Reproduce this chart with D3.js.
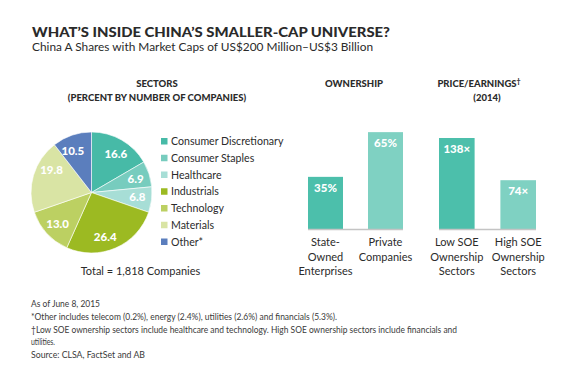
<!DOCTYPE html>
<html>
<head>
<meta charset="utf-8">
<script src="https://cdn.jsdelivr.net/npm/d3@7"></script>
<style>
  html, body { margin: 0; padding: 0; background: #fff; }
  svg { display: block; }
  text { font-family: Lato, "Open Sans", sans-serif; }
</style>
</head>
<body>
<svg id="chart" width="580" height="383"></svg>
<script>
// ---- data ----
const sectors = ["Consumer Discretionary", "Consumer Staples", "Healthcare", "Industrials", "Technology", "Materials", "Other*"];
const sectorValues = [16.6, 6.9, 6.8, 26.4, 13.0, 19.8, 10.5];
const sectorLabels = ["16.6", "6.9", "6.8", "26.4", "13.0", "19.8", "10.5"];

const ownershipCats = ["State-Owned Enterprises", "Private Companies"];
const ownershipValues = [35, 65];
const ownershipLabels = ["35%", "65%"];
const ownershipCatLines = [["State-", "Owned", "Enterprises"], ["Private", "Companies"]];

const peCats = ["Low SOE Ownership Sectors", "High SOE Ownership Sectors"];
const peValues = [138, 74];
const peLabels = ["138×", "74×"];
const peCatLines = [["Low SOE", "Ownership", "Sectors"], ["High SOE", "Ownership", "Sectors"]];

const footnotes = [
  "As of June 8, 2015",
  "*Other includes telecom (0.2%), energy (2.4%), utilities (2.6%) and financials (5.3%).",
  "†Low SOE ownership sectors include healthcare and technology. High SOE ownership sectors include financials and",
  "utilities.",
  "Source: CLSA, FactSet and AB"
];

// ---- style / layout ----
const sectorColors = ["#47baa7", "#77ccbe", "#a7ded6", "#9cba22", "#bcd062", "#d9e4a4", "#5b7ebd"];
const labelAngleNudge = [2, 1, -2, 6, 0, 13, -5];   // degrees, label placement only
const barDark = "#4cbfab", barLight = "#7fd1c2";
const textDark = "#2b2b2b";

const svg = d3.select("#chart");

// Title
svg.append("text").attr("x", 32).attr("y", 36.5)
  .attr("font-size", 14).attr("font-weight", 900).attr("fill", "#2a2a2a")
  .attr("textLength", 358).attr("lengthAdjust", "spacingAndGlyphs")
  .text("WHAT’S INSIDE CHINA’S SMALLER-CAP UNIVERSE?");
svg.append("text").attr("x", 32).attr("y", 51)
  .attr("font-size", 11).attr("fill", "#2a2a2a")
  .attr("textLength", 341).attr("lengthAdjust", "spacingAndGlyphs")
  .text("China A Shares with Market Caps of US$200 Million–US$3 Billion");

// Section headings
function heading(x, y, t) {
  svg.append("text").attr("x", x).attr("y", y).attr("text-anchor", "middle")
    .attr("font-size", 9.5).attr("font-weight", 900).attr("fill", textDark).text(t);
}
heading(157, 87, "SECTORS");
heading(157, 101, "(PERCENT BY NUMBER OF COMPANIES)");
heading(354, 87, "OWNERSHIP");
const peHead = svg.append("text").attr("x", 479).attr("y", 87).attr("text-anchor", "middle")
  .attr("font-size", 9.5).attr("font-weight", 900).attr("fill", textDark);
peHead.append("tspan").text("PRICE/EARNINGS");
peHead.append("tspan").attr("font-size", 7).attr("dy", -3).text("†");
heading(487, 101, "(2014)");

// ---- Pie ----
const cx = 91.5, cy = 192.5, R = 60.5;
const pie = d3.pie().sort(null).value(d => d)(sectorValues);
const arc = d3.arc().innerRadius(0).outerRadius(R);
const gPie = svg.append("g").attr("transform", `translate(${cx},${cy})`);
gPie.selectAll("path").data(pie).join("path")
  .attr("d", arc).attr("fill", (d, i) => sectorColors[i])
  .attr("stroke", "#fff").attr("stroke-width", 0.6);
const labR = R * 0.76;
gPie.selectAll("text.pl").data(pie).join("text").attr("class", "pl")
  .attr("x", (d, i) => labR * Math.sin((d.startAngle + d.endAngle) / 2 + labelAngleNudge[i] * Math.PI / 180))
  .attr("y", (d, i) => -labR * Math.cos((d.startAngle + d.endAngle) / 2 + labelAngleNudge[i] * Math.PI / 180))
  .attr("dy", "0.36em").attr("text-anchor", "middle")
  .attr("font-size", 11.5).attr("font-weight", 900).attr("fill", "#fff")
  .text((d, i) => sectorLabels[i]);

// Legend
const legY = d3.scalePoint().domain(sectors).range([141, 241.5]);
const leg = svg.append("g");
sectors.forEach((s, i) => {
  leg.append("rect").attr("x", 161).attr("y", legY(s) - 3).attr("width", 6.5).attr("height", 6.5)
    .attr("fill", sectorColors[i]);
  leg.append("text").attr("x", 171).attr("y", legY(s) + 4)
    .attr("font-size", 10.6).attr("fill", textDark).text(s);
});

svg.append("text").attr("x", 140.5).attr("y", 275).attr("text-anchor", "middle")
  .attr("font-size", 11).attr("fill", textDark).text("Total = 1,818 Companies");

// ---- Bars ----
const baseY = 229;
function barGroup(cats, vals, labels, lines, range, yMax, yTop, padIn) {
  const x = d3.scaleBand().domain(cats).range(range).paddingInner(padIn).paddingOuter(0);
  const y = d3.scaleLinear().domain([0, yMax]).range([baseY, yTop]);
  const g = svg.append("g");
  g.selectAll("rect").data(cats).join("rect")
    .attr("x", d => x(d)).attr("width", x.bandwidth())
    .attr("y", (d, i) => y(vals[i])).attr("height", (d, i) => baseY - y(vals[i]))
    .attr("fill", (d, i) => i === 0 ? barDark : barLight);
  g.append("line").attr("x1", range[0]).attr("x2", range[1])
    .attr("y1", baseY + 0.5).attr("y2", baseY + 0.5)
    .attr("stroke", "#c4c4c4").attr("stroke-width", 1.5);
  g.selectAll("text.v").data(cats).join("text").attr("class", "v")
    .attr("x", d => x(d) + x.bandwidth() / 2).attr("y", (d, i) => y(vals[i]) + 15)
    .attr("text-anchor", "middle").attr("font-size", 11.5).attr("font-weight", 900)
    .attr("fill", "#fff").text((d, i) => labels[i]);
  cats.forEach((c, i) => {
    lines[i].forEach((ln, j) => {
      g.append("text").attr("x", x(c) + x.bandwidth() / 2).attr("y", 246 + j * 14.5)
        .attr("text-anchor", "middle").attr("font-size", 11).attr("fill", textDark).text(ln);
    });
  });
}
barGroup(ownershipCats, ownershipValues, ownershipLabels, ownershipCatLines, [308, 403], 100, 229 - 149, 0.4167);
barGroup(peCats, peValues, peLabels, peCatLines, [439, 536], 138, 138, 0.42);

// ---- Footnotes ----
const fnY = [307, 320, 332.5, 345, 358];
const fnW = [69, 306, 426, 24, 114];
footnotes.forEach((t, i) => {
  svg.append("text").attr("x", 31).attr("y", fnY[i])
    .attr("font-size", 9.3).attr("fill", "#3a3a3a")
    .attr("textLength", fnW[i]).attr("lengthAdjust", "spacingAndGlyphs")
    .text(t);
});
</script>
</body>
</html>
